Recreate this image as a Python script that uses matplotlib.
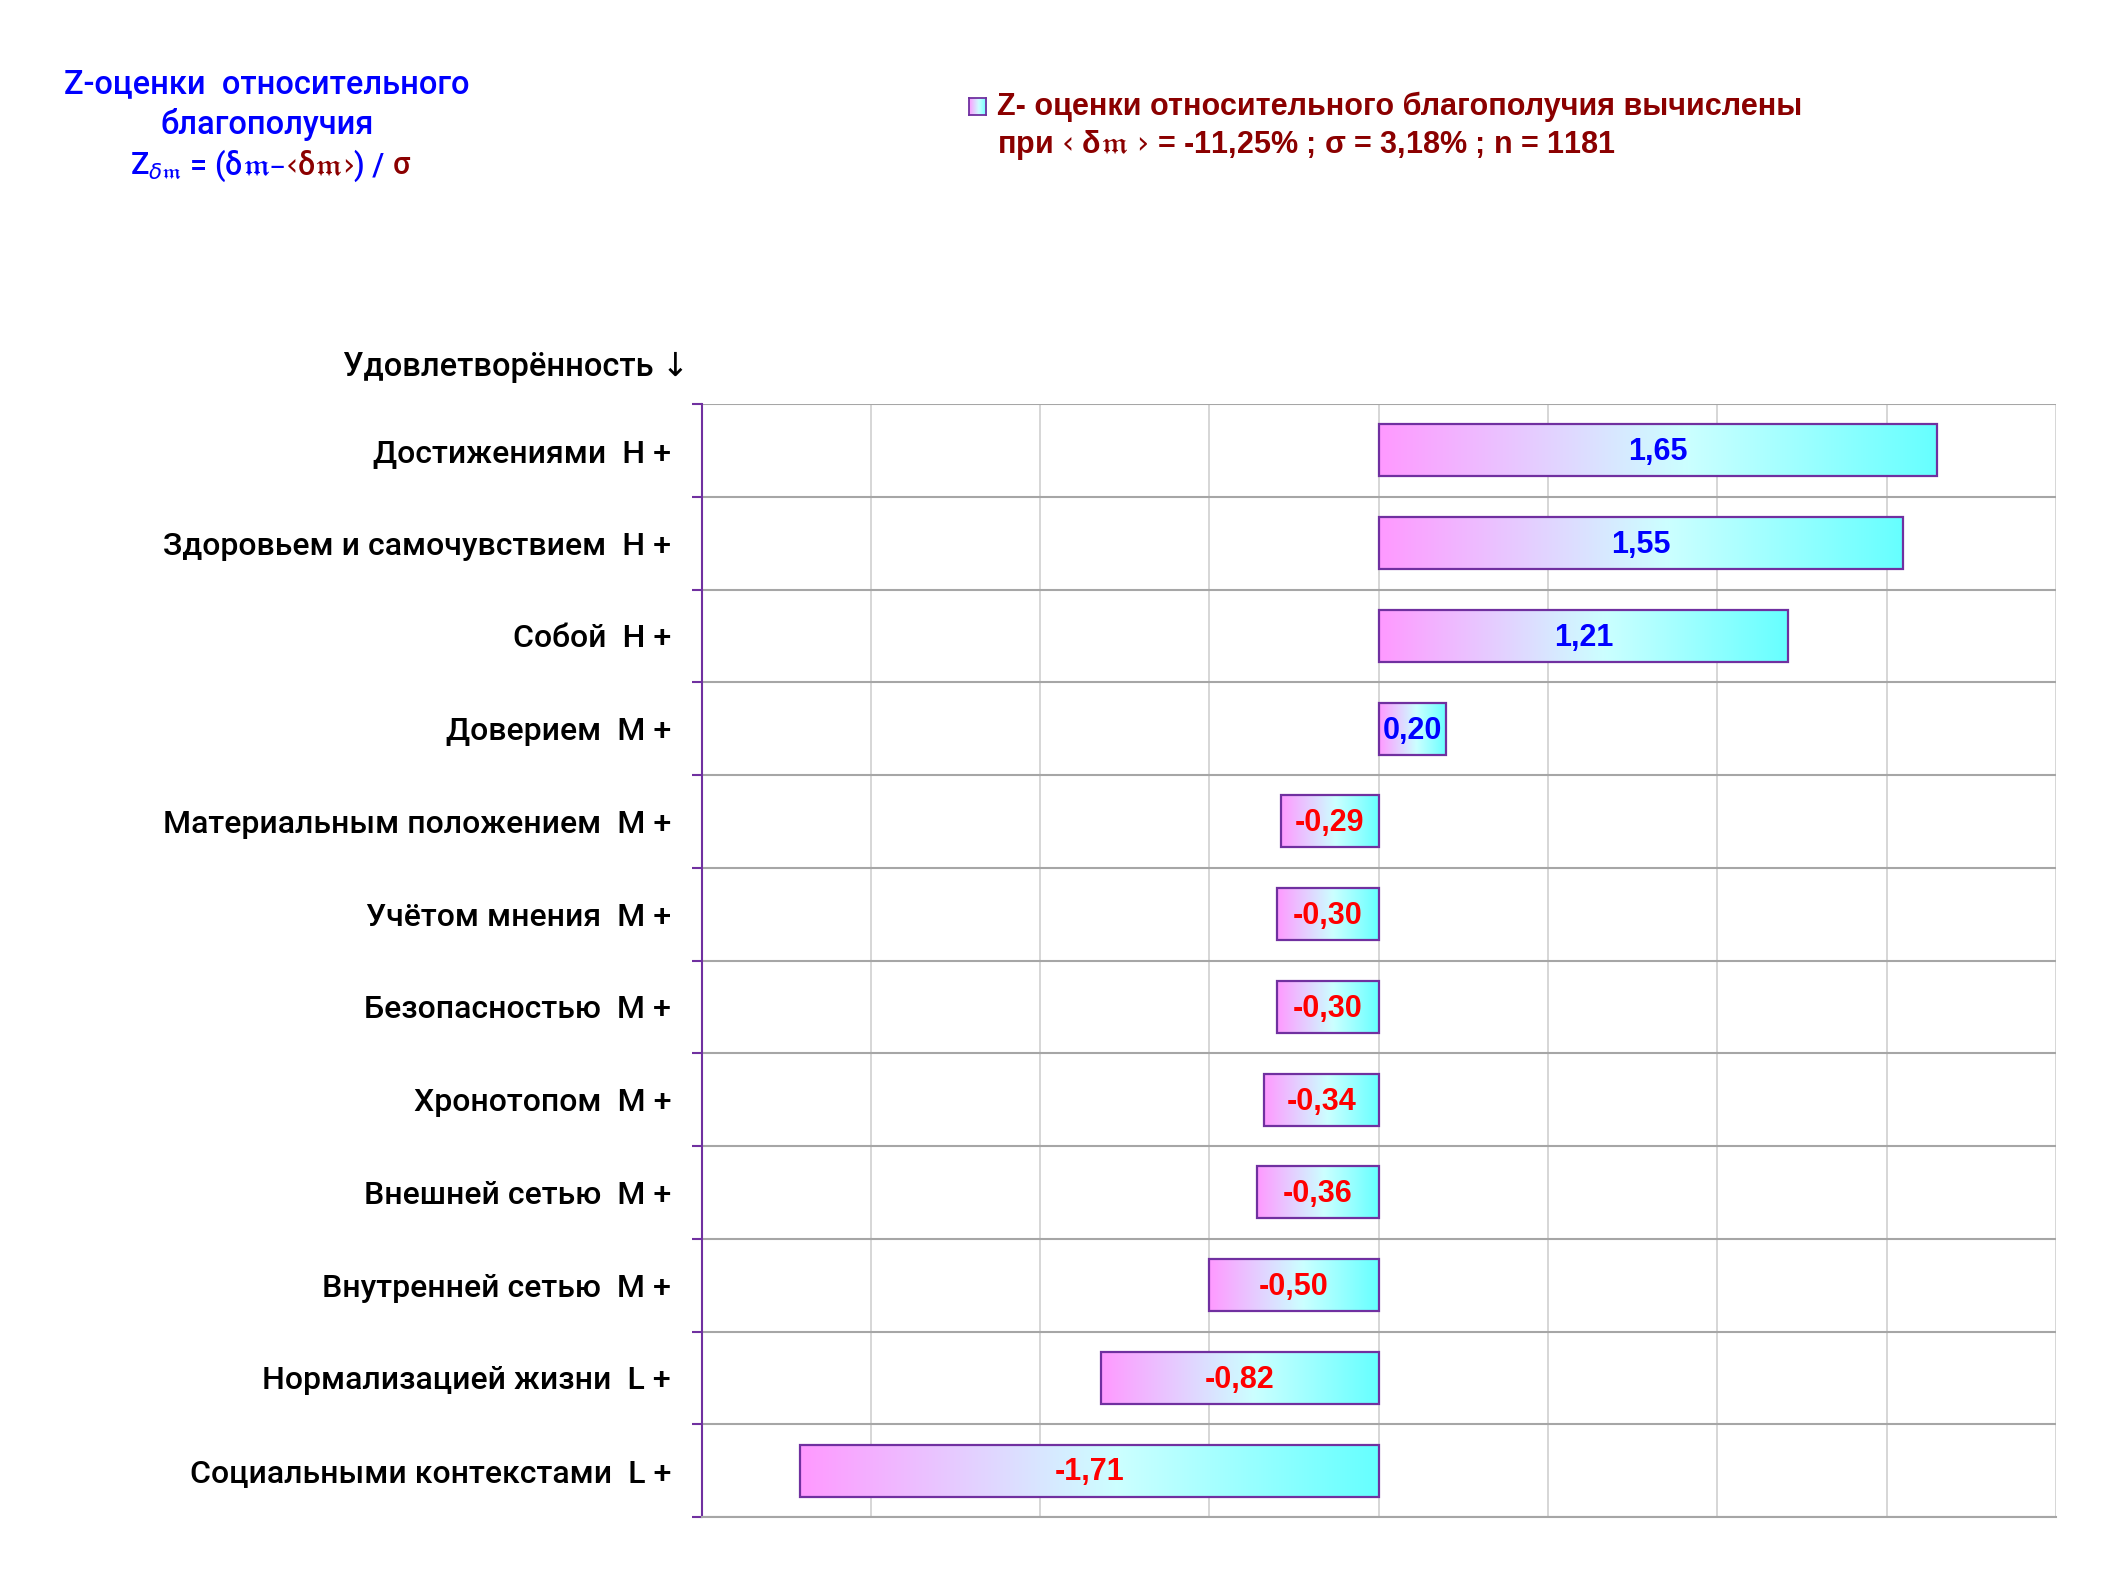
import matplotlib
matplotlib.use("Agg")
import matplotlib.pyplot as plt
import numpy as np
from matplotlib.colors import LinearSegmentedColormap
from matplotlib.patches import Rectangle

categories = [
    "Достижениями  Н +",
    "Здоровьем и самочувствием  Н +",
    "Собой  Н +",
    "Доверием  М +",
    "Материальным положением  М +",
    "Учётом мнения  М +",
    "Безопасностью  М +",
    "Хронотопом  М +",
    "Внешней сетью  М +",
    "Внутренней сетью  М +",
    "Нормализацией жизни  L +",
    "Социальными контекстами  L +",
]
values = [1.65, 1.55, 1.21, 0.20, -0.29, -0.30, -0.30, -0.34, -0.36, -0.50, -0.82, -1.71]
value_labels = ["1,65", "1,55", "1,21", "0,20", "-0,29", "-0,30", "-0,30", "-0,34",
                "-0,36", "-0,50", "-0,82", "-1,71"]

label_font = ["Roboto", "DejaVu Sans"]
arial = ["Liberation Sans", "DejaVu Sans"]

cmap = LinearSegmentedColormap.from_list(
    "pinkcyan", [(0, "#ff99ff"), (0.55, "#ccffff"), (1, "#66ffff")])
grad = np.linspace(0, 1, 256).reshape(1, -1)
purple = "#7030a0"
darkred = "#8b0000"
blue = "#0000ff"

fig = plt.figure(figsize=(21.26, 15.94), dpi=100)
ax = fig.add_axes([0.330, 0.0483, 0.637, 0.6982])

y = np.arange(len(values))
bar_h = 0.56
for i, v in enumerate(values):
    x0, x1 = min(0, v), max(0, v)
    im = ax.imshow(grad, cmap=cmap, aspect="auto",
                   extent=[x0, x1, i + bar_h / 2, i - bar_h / 2], zorder=2)
    r = Rectangle((x0, i - bar_h / 2), x1 - x0, bar_h, facecolor="none",
                  edgecolor=purple, lw=1.6, zorder=3)
    ax.add_patch(r)
    im.set_clip_path(r)
    col = blue if v > 0 else "#ff0000"
    ax.text((x0 + x1) / 2, i + 0.02, value_labels[i], ha="center", va="center",
            color=col, fontsize=22, family=arial, weight="bold", zorder=4)

ax.set_xlim(-2, 2)
ax.set_ylim(len(values) - 0.5, -0.5)
ax.set_xticks(np.arange(-2, 2.01, 0.5))
ax.set_xticklabels([])
ax.tick_params(axis="x", length=0)
ax.set_yticks(y)
ax.set_yticklabels(categories, fontsize=23, family=label_font, weight="medium")
ax.tick_params(axis="y", which="major", length=0, pad=22)
ax.set_yticks(np.arange(-0.5, len(values), 1), minor=True)
ax.tick_params(axis="y", which="minor", length=7, color=purple, width=1.5)
ax.grid(axis="x", which="major", color="#d0d0d0", lw=1.2, zorder=0)
ax.grid(axis="y", which="minor", color="#a6a6a6", lw=1.5, zorder=0)
ax.set_axisbelow(True)
for s in ["top", "right"]:
    ax.spines[s].set_visible(False)
ax.spines["left"].set_color(purple)
ax.spines["left"].set_linewidth(1.5)
ax.spines["bottom"].set_color("#a6a6a6")
ax.spines["bottom"].set_linewidth(1.5)

fig.text(0.324, 0.770, "Удовлетворённость ↓", ha="right", va="center",
         fontsize=23.5, family=label_font, weight="medium")

# title, top left
fig.text(0.1255, 0.947, "Z-оценки  относительного", ha="center", va="center",
         fontsize=23.5, color=blue, family=label_font, weight="medium")
fig.text(0.1255, 0.922, "благополучия", ha="center", va="center",
         fontsize=23.5, color=blue, family=label_font, weight="medium")

renderer = fig.canvas.get_renderer()


def pieces(x, yy, parts, size, family, weight="normal"):
    for s, c in parts:
        t = fig.text(x, yy, s, ha="left", va="center", fontsize=size, color=c,
                     family=family, weight=weight)
        bb = t.get_window_extent(renderer)
        x += bb.width / fig.bbox.width


pieces(0.061, 0.896, [
    (r"Z$_{\delta\mathfrak{m}}$", blue),
    (r" = (δ$\mathfrak{m}$–", blue),
    (r"‹δ$\mathfrak{m}$›", darkred),
    (") / ", blue),
    ("σ", darkred),
], 22, label_font, "medium")

# legend
leg = fig.add_axes([0.456, 0.928, 0.008, 0.0107])
leg.imshow(grad, cmap=cmap, aspect="auto", extent=[0, 1, 0, 1])
leg.set_xticks([])
leg.set_yticks([])
for s in leg.spines.values():
    s.set_color(purple)
    s.set_linewidth(1.3)

fig.text(0.469, 0.933, "Z- оценки относительного благополучия вычислены",
         ha="left", va="center", fontsize=22, color=darkred, family=arial, weight="bold")
fig.text(0.469, 0.909, r"при ‹ δ$\mathfrak{m}$ › = -11,25% ; σ = 3,18% ; n = 1181",
         ha="left", va="center", fontsize=22, color=darkred, family=arial, weight="bold")

fig.savefig("out.png", dpi=100)
